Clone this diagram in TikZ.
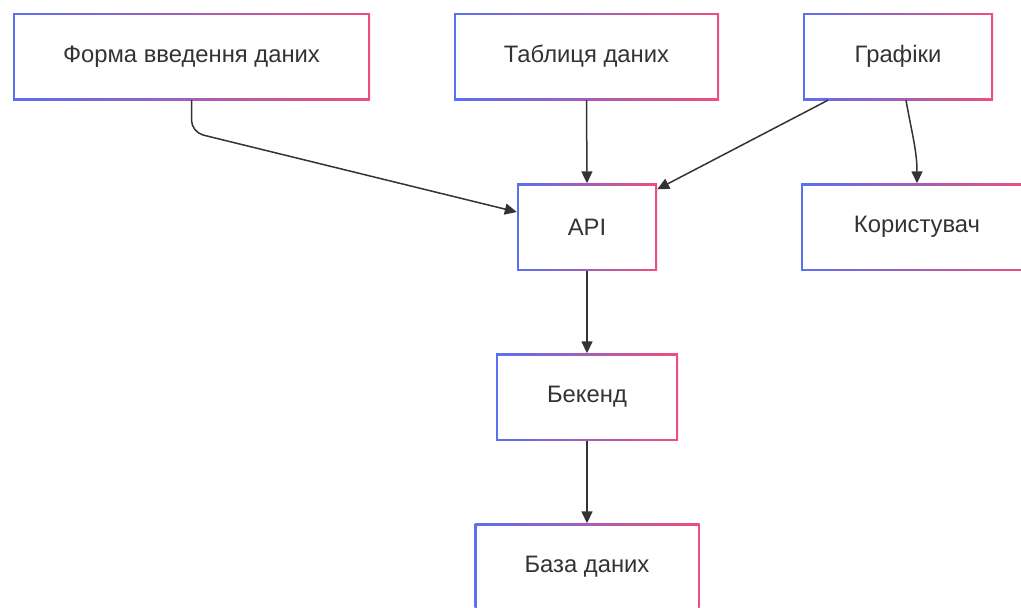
\documentclass[tikz,border=0pt]{standalone}
\usepackage{fontspec}
\setmainfont{Liberation Sans}
\usetikzlibrary{positioning,arrows.meta}
\definecolor{edgeblue}{HTML}{5A6FF2}
\definecolor{edgepink}{HTML}{EE4F7B}
\definecolor{inkgray}{HTML}{333333}

\begin{document}
\begin{tikzpicture}[x=1pt, y=-1pt, >={Triangle[length=12pt,width=11pt]},
  box/.style={rectangle, minimum height=87pt, inner sep=0pt,
    left color=edgeblue, right color=edgepink, text=inkgray,
    font=\fontsize{23.8}{28}\selectfont,
    path picture={\fill[white]
      ([shift={(2pt,-2pt)}]path picture bounding box.north west) rectangle
      ([shift={(-2pt,2pt)}]path picture bounding box.south east);}},
  link/.style={->, draw=inkgray, line width=1.5pt, rounded corners=12pt}]
  \useasboundingbox (0,0) rectangle (1021,608);

  % Top row
  \node[box, minimum width=357pt] (form) at (191.5,56.5) {Форма введення даних};
  \node[box, minimum width=265pt] (table) at (586.5,56.5) {Таблиця даних};
  \node[box, minimum width=190pt] (charts) at (898,56.5) {Графіки};

  % Middle and bottom
  \node[box, minimum width=140pt] (api) at (587,227) {API};
  \node[box, minimum width=232pt] (user) at (917,227) {Користувач};
  \node[box, minimum width=182pt] (backend) at (587,397) {Бекенд};
  \node[box, minimum width=225pt] (db) at (587,567) {База даних};

  % Connectors
  \draw[link] (form.south) -- ++(0,32) -- ([yshift=15pt]api.west);
  \draw[link] (table.south) -- (api.north);
  \draw[link] ([xshift=-70pt]charts.south) -- ([yshift=-6pt]api.north east);
  \draw[link] ([xshift=8pt]charts.south) to[out=-80, in=90] (user.north);
  \draw[link] (api.south) -- (backend.north);
  \draw[link] (backend.south) -- (db.north);
\end{tikzpicture}
\end{document}
